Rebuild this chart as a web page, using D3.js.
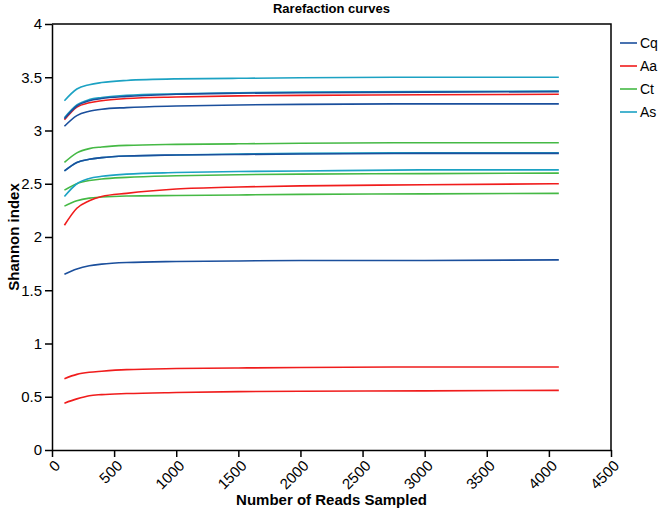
<!DOCTYPE html>
<html lang="en">
<head>
<meta charset="utf-8">
<title>Rarefaction curves</title>
<style>
    body { margin: 0; background: #fff; font-family: "Liberation Sans", Arial, sans-serif; }
    .axis text { font-size: 15px; fill: #000; }
    .axis path, .axis line { stroke: #000; stroke-width: 1.5px; }
    .curve { fill: none; stroke-width: 1.6px; }
</style>
</head>
<body>
<script src="https://cdn.jsdelivr.net/npm/d3@7"></script>
<script>
    // reads sampled (shared by every curve)
    var reads = [100, 200, 300, 400, 600, 1000, 1500, 2000, 3000, 4080];

    var groups = ["Cq", "Aa", "Ct", "As"];
    var colors = ["#1b4f9c", "#f01c1c", "#45b945", "#1ca2c3"];

    // Shannon index per sample
    var cq1 = [3.11, 3.23, 3.28, 3.30, 3.32, 3.34, 3.35, 3.355, 3.36, 3.365];
    var cq2 = [3.04, 3.14, 3.18, 3.20, 3.215, 3.23, 3.24, 3.245, 3.25, 3.25];
    var cq3 = [2.62, 2.70, 2.73, 2.745, 2.76, 2.77, 2.775, 2.78, 2.785, 2.785];
    var cq4 = [1.65, 1.70, 1.73, 1.745, 1.76, 1.77, 1.775, 1.78, 1.78, 1.785];
    var aa1 = [3.10, 3.22, 3.26, 3.28, 3.30, 3.315, 3.325, 3.33, 3.335, 3.34];
    var aa2 = [2.11, 2.27, 2.34, 2.38, 2.41, 2.45, 2.47, 2.48, 2.49, 2.50];
    var aa3 = [0.67, 0.71, 0.73, 0.74, 0.755, 0.765, 0.77, 0.775, 0.78, 0.78];
    var aa4 = [0.44, 0.48, 0.51, 0.52, 0.53, 0.54, 0.548, 0.552, 0.555, 0.56];
    var ct1 = [2.70, 2.79, 2.83, 2.845, 2.86, 2.87, 2.875, 2.88, 2.885, 2.885];
    var ct2 = [2.44, 2.50, 2.53, 2.545, 2.56, 2.575, 2.585, 2.59, 2.595, 2.60];
    var ct3 = [2.29, 2.34, 2.365, 2.375, 2.385, 2.39, 2.395, 2.40, 2.405, 2.41];
    var as1 = [3.28, 3.39, 3.43, 3.45, 3.47, 3.485, 3.49, 3.495, 3.50, 3.50];
    var as2 = [3.12, 3.24, 3.29, 3.31, 3.33, 3.345, 3.355, 3.36, 3.365, 3.37];
    var as3 = [2.62, 2.70, 2.73, 2.745, 2.76, 2.77, 2.78, 2.785, 2.79, 2.79];
    var as4 = [2.38, 2.50, 2.55, 2.57, 2.59, 2.605, 2.615, 2.62, 2.63, 2.63];

    var curves = [
        {group: "Ct", values: ct1}, {group: "Ct", values: ct2}, {group: "Ct", values: ct3},
        {group: "Aa", values: aa1}, {group: "Aa", values: aa2}, {group: "Aa", values: aa3}, {group: "Aa", values: aa4},
        {group: "As", values: as1}, {group: "As", values: as2}, {group: "As", values: as3}, {group: "As", values: as4},
        {group: "Cq", values: cq1}, {group: "Cq", values: cq2}, {group: "Cq", values: cq3}, {group: "Cq", values: cq4}
    ];

    var xTicks = [0, 500, 1000, 1500, 2000, 2500, 3000, 3500, 4000, 4500];
    var yTicks = [0, 0.5, 1, 1.5, 2, 2.5, 3, 3.5, 4];

    var margin = {top: 24, right: 49, bottom: 63, left: 52},
        width = 660 - margin.left - margin.right,
        height = 513 - margin.top - margin.bottom;

    var svg = d3.select("body").append("svg")
        .attr("width", 660)
        .attr("height", 513);

    var g = svg.append("g")
        .attr("transform", "translate(" + margin.left + "," + margin.top + ")");

    var x = d3.scaleLinear().domain([0, 4500]).range([0, width]);
    var y = d3.scaleLinear().domain([0, 4]).range([height, 0]);
    var color = d3.scaleOrdinal().domain(groups).range(colors);

    // frame
    g.append("path")
        .attr("d", "M0,0H" + width + "V" + height)
        .attr("fill", "none")
        .attr("stroke", "#000")
        .attr("stroke-width", 1.5);

    var line = d3.line()
        .x(function(d) { return x(d[0]); })
        .y(function(d) { return y(d[1]); })
        .curve(d3.curveMonotoneX);

    g.selectAll(".curve")
        .data(curves)
        .enter().append("path")
        .attr("class", "curve")
        .attr("stroke", function(d) { return color(d.group); })
        .attr("d", function(d) {
            return line(d.values.map(function(v, i) { return [reads[i], v]; }));
        });

    var xAxis = g.append("g")
        .attr("class", "axis")
        .attr("transform", "translate(0," + height + ")")
        .call(d3.axisBottom(x).tickValues(xTicks).tickSize(7).tickSizeOuter(0).tickFormat(d3.format("d")));
    xAxis.selectAll("text")
        .attr("x", 0)
        .attr("y", 0)
        .attr("dy", "0.35em")
        .attr("text-anchor", "end")
        .attr("transform", "translate(5,13) rotate(-45)");

    g.append("g")
        .attr("class", "axis")
        .call(d3.axisLeft(y).tickValues(yTicks).tickSize(7).tickSizeOuter(0).tickFormat(d3.format("")));

    svg.append("text")
        .attr("x", margin.left + width / 2)
        .attr("y", 13)
        .attr("text-anchor", "middle")
        .style("font-size", "13px")
        .style("font-weight", "bold")
        .text("Rarefaction curves");

    svg.append("text")
        .attr("x", margin.left + width / 2)
        .attr("y", 505)
        .attr("text-anchor", "middle")
        .style("font-size", "15px")
        .style("font-weight", "bold")
        .text("Number of Reads Sampled");

    svg.append("text")
        .attr("transform", "translate(19," + (margin.top + height / 2) + ") rotate(-90)")
        .attr("text-anchor", "middle")
        .style("font-size", "15px")
        .style("font-weight", "bold")
        .text("Shannon index");

    var legend = svg.append("g")
        .attr("transform", "translate(620,43)");
    var item = legend.selectAll("g")
        .data(groups)
        .enter().append("g")
        .attr("transform", function(d, i) { return "translate(0," + i * 23 + ")"; });
    item.append("line")
        .attr("x1", 0).attr("x2", 17)
        .attr("stroke", function(d) { return color(d); })
        .attr("stroke-width", 1.6);
    item.append("text")
        .attr("x", 20)
        .attr("dy", "0.35em")
        .style("font-size", "14px")
        .text(function(d) { return d; });
</script>
</body>
</html>
